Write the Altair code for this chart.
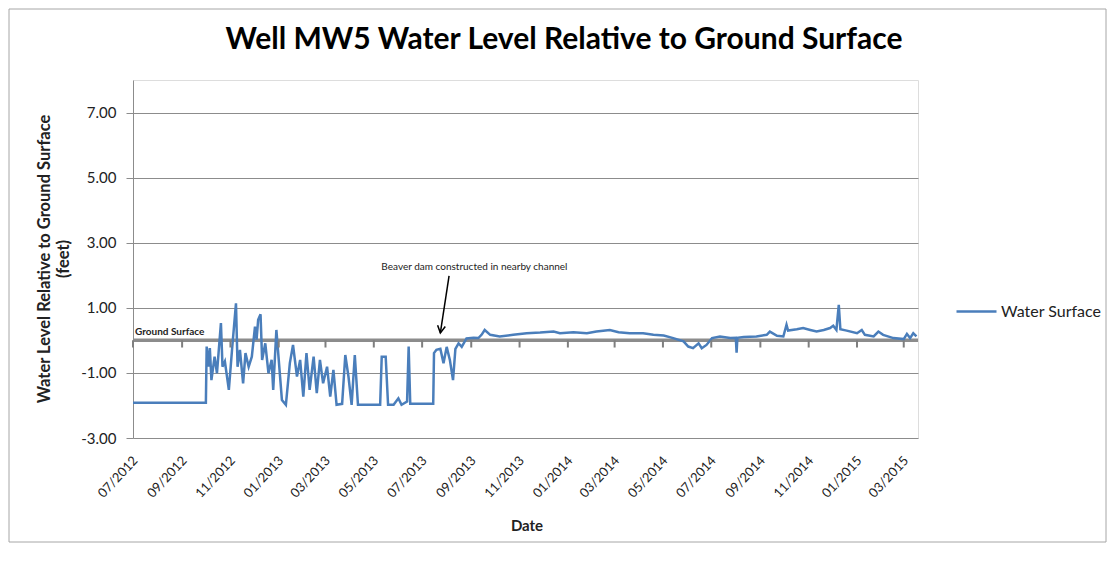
import altair as alt
import pandas as pd

# ---------------- data ----------------
DATES = [
    "2012-07-01", "2012-10-01", "2012-10-02", "2012-10-04", "2012-10-06", "2012-10-08",
    "2012-10-12", "2012-10-15", "2012-10-17", "2012-10-20", "2012-10-22", "2012-10-25",
    "2012-10-30", "2012-11-03", "2012-11-08", "2012-11-10", "2012-11-13", "2012-11-17",
    "2012-11-20", "2012-11-24", "2012-11-28", "2012-12-02", "2012-12-04", "2012-12-06",
    "2012-12-09", "2012-12-11", "2012-12-15", "2012-12-19", "2012-12-23", "2012-12-25",
    "2012-12-29", "2013-01-05", "2013-01-10", "2013-01-15", "2013-01-19", "2013-01-24",
    "2013-01-28", "2013-02-01", "2013-02-05", "2013-02-09", "2013-02-14", "2013-02-18",
    "2013-02-22", "2013-02-26", "2013-03-03", "2013-03-07", "2013-03-11", "2013-03-15",
    "2013-03-22", "2013-03-26", "2013-03-30", "2013-04-03", "2013-04-07", "2013-04-11",
    "2013-05-09", "2013-05-11", "2013-05-16", "2013-05-19", "2013-05-26", "2013-06-01",
    "2013-06-05", "2013-06-12", "2013-06-14", "2013-06-16", "2013-07-15", "2013-07-16",
    "2013-07-19", "2013-07-24", "2013-07-28", "2013-08-01", "2013-08-05", "2013-08-09",
    "2013-08-12", "2013-08-16", "2013-08-20", "2013-08-26", "2013-09-04", "2013-09-10",
    "2013-09-14", "2013-09-18", "2013-09-25", "2013-10-07", "2013-10-24", "2013-11-10",
    "2013-11-27", "2013-12-14", "2013-12-22", "2014-01-08", "2014-01-25", "2014-02-06",
    "2014-02-23", "2014-03-06", "2014-03-20", "2014-04-06", "2014-04-19", "2014-05-02",
    "2014-05-14", "2014-05-27", "2014-06-02", "2014-06-08", "2014-06-15", "2014-06-19",
    "2014-06-25", "2014-07-02", "2014-07-12", "2014-07-25", "2014-08-01", "2014-08-02",
    "2014-08-03", "2014-08-11", "2014-08-27", "2014-09-09", "2014-09-13", "2014-09-22",
    "2014-09-30", "2014-10-04", "2014-10-06", "2014-10-17", "2014-10-25", "2014-11-03",
    "2014-11-11", "2014-11-20", "2014-11-28", "2014-12-02", "2014-12-06", "2014-12-09",
    "2014-12-11", "2014-12-19", "2015-01-01", "2015-01-07", "2015-01-11", "2015-01-22",
    "2015-01-28", "2015-02-03", "2015-02-16", "2015-03-01", "2015-03-05", "2015-03-09",
    "2015-03-13", "2015-03-17",
]
LEVELS = [
    -1.92, -1.92, -0.19, -0.81, -0.24, -1.22,
    -0.50, -1.01, -0.39, 0.53, -0.81, -0.65,
    -1.52, -0.29, 1.14, -0.81, -0.29, -1.32,
    -0.39, -0.81, -0.50, 0.42, 0.02, 0.63,
    0.80, -0.60, -0.09, -1.01, -0.60, -1.52,
    0.32, -1.83, -1.98, -0.70, -0.14, -1.11,
    -0.60, -1.73, -0.39, -1.52, -0.50, -1.62,
    -0.60, -1.32, -0.81, -1.73, -0.91, -1.98,
    -1.95, -0.45, -1.11, -1.98, -0.45, -1.98,
    -1.98, -0.50, -0.50, -1.98, -1.98, -1.78,
    -1.98, -1.88, -0.19, -1.95, -1.95, -0.39,
    -0.29, -0.26, -0.70, -0.20, -0.60, -1.22,
    -0.26, -0.09, -0.20, 0.06, 0.08, 0.07,
    0.17, 0.32, 0.17, 0.12, 0.17, 0.22,
    0.24, 0.27, 0.22, 0.25, 0.22, 0.27,
    0.32, 0.25, 0.22, 0.22, 0.17, 0.15,
    0.07, -0.03, -0.19, -0.24, -0.09, -0.24,
    -0.14, 0.07, 0.12, 0.07, 0.08, -0.38,
    0.08, 0.10, 0.12, 0.17, 0.27, 0.14,
    0.12, 0.48, 0.30, 0.34, 0.38, 0.32,
    0.27, 0.32, 0.38, 0.45, 0.32, 1.09,
    0.34, 0.30, 0.22, 0.32, 0.17, 0.12,
    0.27, 0.17, 0.07, 0.04, 0.20, 0.07,
    0.22, 0.12,
]
SERIES_NAME = "Water Surface"

TICK_DATES = [
    "2012-07-01", "2012-09-01", "2012-11-01", "2013-01-01", "2013-03-01", "2013-05-01",
    "2013-07-01", "2013-09-01", "2013-11-01", "2014-01-01", "2014-03-01", "2014-05-01",
    "2014-07-01", "2014-09-01", "2014-11-01", "2015-01-01", "2015-03-01",
]
X_START = (2012, 7, 1)
X_END = (2015, 3, 19)
Y_DOMAIN = [-3, 8]
Y_TICKS = [-3, -1, 1, 3, 5, 7]
GROUND_LEVEL = [0]
GROUND_TICK_END = -0.22   # tick marks hang just below the ground-surface axis line

TITLE = "Well MW5 Water Level Relative to Ground Surface"
Y_TITLE = ["Water Level Relative to Ground Surface", "(feet)"]
X_TITLE = "Date"
GROUND_LABEL = "Ground Surface"
ANNOTATION = ["Beaver dam constructed in nearby channel"]
ANNOT_DATE = ["2013-09-05"]
ANNOT_LEVEL = [2.26]
ARROW_FROM_DATE = ["2013-08-04"]
ARROW_FROM_LEVEL = [1.98]
ARROW_TO_DATE = ["2013-07-24"]
ARROW_TO_LEVEL = [0.23]

# ---------------- style ----------------
FONT = "Lato"
BLUE = "#4A7EBB"
GRID = "#8c8c8c"
W, H = 785, 358

df = pd.DataFrame({"date": DATES, "level": LEVELS, "series": SERIES_NAME})
ticks_df = pd.DataFrame({"tdate": TICK_DATES,
                         "tlevel": [float(GROUND_LEVEL[0])] * len(TICK_DATES),
                         "tlevel2": [GROUND_TICK_END] * len(TICK_DATES)})
ground_df = pd.DataFrame({"level": GROUND_LEVEL})
annot_df = pd.DataFrame({"date": ANNOT_DATE, "level": ANNOT_LEVEL, "text": ANNOTATION})
arrow_df = pd.DataFrame({"date": ARROW_FROM_DATE, "level": ARROW_FROM_LEVEL,
                         "date2": ARROW_TO_DATE, "level2": ARROW_TO_LEVEL})
head_df = pd.DataFrame({"date": ARROW_TO_DATE, "level": ARROW_TO_LEVEL})
one = pd.DataFrame({"k": [0]})

x_scale = alt.Scale(type="utc",
                    domain=[alt.DateTime(year=X_START[0], month=X_START[1], date=X_START[2], utc=True),
                            alt.DateTime(year=X_END[0], month=X_END[1], date=X_END[2], utc=True)])
y_scale = alt.Scale(domain=Y_DOMAIN, nice=False, zero=False)

x_axis = alt.Axis(
    values=[alt.DateTime(year=int(d[:4]), month=int(d[5:7]), date=1, utc=True) for d in TICK_DATES],
    format="%m/%Y", labelAngle=-47, labelAlign="right", labelBaseline="middle",
    labelFont=FONT, labelFontSize=13, labelColor="#222", labelPadding=20, labelOffset=2,
    domain=False, ticks=False, grid=False, title=None, labelOverlap=False,
)
y_axis = alt.Axis(
    values=Y_TICKS,
    labelExpr="(datum.value < 0 ? '-' : '') + format(abs(datum.value), '.2f')",
    labelFont=FONT, labelFontSize=15, labelColor="#222",
    labelPadding=10, tickSize=7, tickColor=GRID, domainColor=GRID, gridColor=GRID,
    grid=True, title=None,
)


def X(field="date"):
    return alt.X(f"{field}:T", scale=x_scale, axis=x_axis, title=None)


def Y(field="level"):
    return alt.Y(f"{field}:Q", scale=y_scale, axis=y_axis, title=None)


border = alt.Chart(one).mark_rect(fill=None, stroke="#a6a6a6", strokeWidth=1).encode(
    x=alt.value(-124), x2=alt.value(973), y=alt.value(-71), y2=alt.value(462))

ground = alt.Chart(ground_df).mark_rule(color=GRID, strokeWidth=3.5).encode(y=Y())

ground_ticks = alt.Chart(ticks_df).mark_rule(
    color="#7f7f7f", strokeWidth=2, opacity=1).encode(
    x=X("tdate"), y=Y("tlevel"), y2=alt.Y2("tlevel2:Q"))

line = alt.Chart(df).mark_line(strokeWidth=2.5).encode(
    x=X(), y=Y(),
    color=alt.Color("series:N", scale=alt.Scale(domain=[SERIES_NAME], range=[BLUE]),
                    legend=alt.Legend(orient="none", legendX=822, legendY=210, title=None,
                                      symbolType="stroke", symbolSize=1600,
                                      symbolStrokeWidth=2.5, labelFont=FONT,
                                      labelFontSize=16, labelColor="#222",
                                      labelOffset=3, padding=0)),
)

ground_label = alt.Chart(ground_df).mark_text(
    align="left", baseline="alphabetic", dy=-5, font=FONT, fontSize=10,
    fontWeight="bold", color="#222").encode(
    x=alt.value(2), y=Y(), text=alt.value(GROUND_LABEL))

arrow = alt.Chart(arrow_df).mark_rule(color="black", strokeWidth=1.5).encode(
    x=X(), y=Y(), x2="date2:T", y2="level2:Q")

arrow_head = alt.Chart(head_df).mark_point(
    shape="M-0.55,-1L0,0L0.55,-1", filled=False, color="black", strokeWidth=1.5,
    size=200, angle=9, opacity=1).encode(x=X(), y=Y())

annot = alt.Chart(annot_df).mark_text(
    font=FONT, fontSize=10, color="#222", baseline="middle").encode(
    x=X(), y=Y(), text="text:N")

title = alt.Chart(one).mark_text(
    font=FONT, fontSize=30, fontWeight="bold", color="black", baseline="middle").encode(
    x=alt.value(431), y=alt.value(-40), text=alt.value(TITLE))

ytitle = alt.Chart(one).mark_text(
    font=FONT, fontSize=16.5, fontWeight="bold", color="#222", angle=270,
    baseline="middle", lineHeight=19).encode(
    x=alt.value(-88), y=alt.value(179), text=alt.value(Y_TITLE))

xtitle = alt.Chart(one).mark_text(
    font=FONT, fontSize=15, fontWeight="bold", color="#222", baseline="middle").encode(
    x=alt.value(394), y=alt.value(446), text=alt.value(X_TITLE))

chart = alt.layer(
    border, ground, line, ground_ticks, ground_label, arrow, arrow_head, annot,
    title, ytitle, xtitle,
).properties(
    width=W, height=H,
    padding={"left": 125, "top": 72, "right": 189, "bottom": 105},
    autosize=alt.AutoSizeParams(type="none"),
).configure_view(stroke=None).configure(background="white")

chart.save("out.html", embed_options={"renderer": "svg", "actions": False})
